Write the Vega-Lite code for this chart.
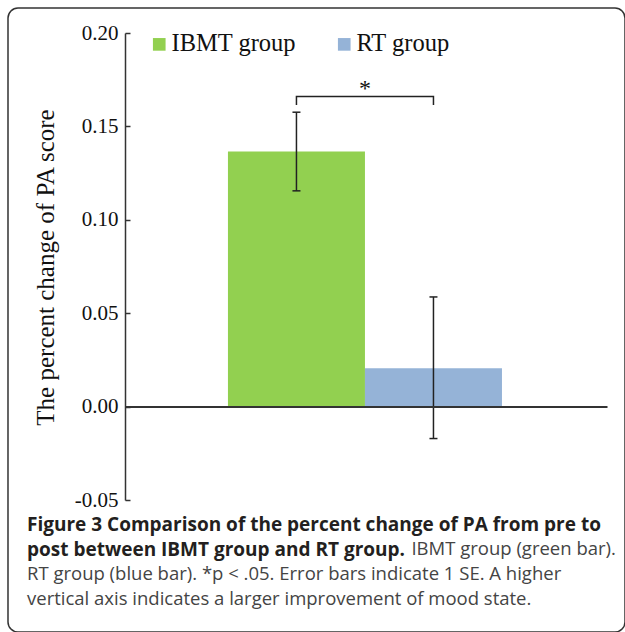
{
  "$schema": "https://vega.github.io/schema/vega-lite/v6.json",
  "width": 617,
  "height": 624,
  "autosize": {"type": "none"},
  "padding": {"left": 8, "top": 8, "right": 0, "bottom": 0},
  "background": "white",
  "title": {
    "text": ["Figure 3 Comparison of the percent change of PA from pre to", "post between IBMT group and RT group."],
    "subtitle": ["\u200b\u00a0\u00a0\u00a0\u00a0\u00a0\u00a0\u00a0\u00a0\u00a0\u00a0\u00a0\u00a0\u00a0\u00a0\u00a0\u00a0\u00a0\u00a0\u00a0\u00a0\u00a0\u00a0\u00a0\u00a0\u00a0\u00a0\u00a0\u00a0\u00a0\u00a0\u00a0\u00a0\u00a0\u00a0\u00a0\u00a0\u00a0\u00a0\u00a0\u00a0\u00a0\u00a0\u00a0\u00a0\u00a0\u00a0\u00a0\u00a0\u00a0\u00a0\u00a0\u00a0\u00a0\u00a0\u00a0\u00a0\u00a0\u00a0\u00a0\u00a0\u00a0\u00a0\u00a0\u00a0\u00a0\u00a0\u00a0\u00a0\u00a0\u00a0\u00a0\u00a0\u00a0\u00a0\u00a0\u00a0\u00a0\u00a0\u00a0\u00a0IBMT group (green bar).", "RT group (blue bar). *p < .05. Error bars indicate 1 SE. A higher", "vertical axis indicates a larger improvement of mood state."],
    "orient": "bottom",
    "anchor": "start",
    "frame": "group",
    "offset": -116,
    "dx": 19,
    "font": "Open Sans",
    "fontSize": 19,
    "fontWeight": "bold",
    "color": "#231f20",
    "lineHeight": 24.5,
    "subtitleFont": "Open Sans",
    "subtitleFontSize": 18.5,
    "subtitleFontWeight": "normal",
    "subtitleColor": "#444444",
    "subtitleLineHeight": 25,
    "subtitlePadding": -19.5
  },
  "datasets": {
    "bars": [
      {"group": "IBMT group", "mean": 0.1365, "lo": 0.1155, "hi": 0.1576},
      {"group": "RT group", "mean": 0.0205, "lo": -0.0171, "hi": 0.0587}
    ],
    "bracket": [
      {"group": "IBMT group", "y": 0.1615, "k": 1},
      {"group": "IBMT group", "y": 0.166, "k": 2},
      {"group": "RT group", "y": 0.166, "k": 3},
      {"group": "RT group", "y": 0.1615, "k": 4}
    ],
    "star": [
      {"group": "IBMT group", "y": 0.17, "label": "*"}
    ]
  },
  "layer": [
    {
      "data": {"name": "bars"},
      "mark": {"type": "bar", "strokeWidth": 0},
      "encoding": {
        "x": {
          "field": "group",
          "type": "nominal",
          "scale": {"domain": ["IBMT group", "RT group"], "range": [117, 599], "paddingInner": 0, "paddingOuter": 0.759, "align": 0.495},
          "axis": {"orient": "bottom", "offset": -225.4, "ticks": false, "labels": false, "title": null, "domainColor": "#333333", "domainWidth": 2, "zindex": 1}
        },
        "y": {
          "field": "mean",
          "type": "quantitative",
          "scale": {"domain": [-0.05, 0.2], "range": [492, 25], "nice": false, "zero": false},
          "axis": {
            "orient": "left",
            "offset": -117,
            "values": [-0.05, 0, 0.05, 0.1, 0.15, 0.2],
            "format": ".2f",
            "labelExpr": "replace(datum.label, '\u2212', '-')",
            "labelFont": "Liberation Serif",
            "labelFontSize": 21,
            "labelColor": "#111111",
            "labelPadding": 12,
            "tickSize": -5,
            "tickColor": "#333333",
            "tickWidth": 1.5,
            "domainColor": "#333333",
            "domainWidth": 1.5,
            "grid": false,
            "title": "The percent change of PA score",
            "titleFont": "Liberation Serif",
            "titleFontSize": 25,
            "titleFontWeight": "normal",
            "titleColor": "#111111",
            "titleAngle": -90,
            "titleBaseline": "middle",
            "titleAlign": "center",
            "titleX": -80,
            "titleY": 259
          }
        },
        "color": {
          "field": "group",
          "type": "nominal",
          "scale": {"domain": ["IBMT group", "RT group"], "range": ["#92D050", "#95B3D7"]},
          "legend": {
            "title": null,
            "orient": "none",
            "legendX": 139,
            "legendY": 24,
            "direction": "horizontal",
            "symbolType": "square",
            "symbolSize": 160,
            "symbolStrokeWidth": 0,
            "symbolOpacity": 1,
            "labelFont": "Liberation Serif",
            "labelFontSize": 24.5,
            "labelColor": "#111111",
            "labelOffset": 0,
            "labelLimit": 300,
            "columnPadding": 35,
            "padding": 0
          }
        }
      }
    },
    {
      "data": {"name": "bars"},
      "mark": {"type": "rule", "color": "#222222", "strokeWidth": 1.5},
      "encoding": {
        "x": {"field": "group", "type": "nominal"},
        "y": {"field": "lo", "type": "quantitative"},
        "y2": {"field": "hi"}
      }
    },
    {
      "data": {"name": "bars"},
      "mark": {"type": "tick", "orient": "horizontal", "size": 8, "thickness": 1.5, "color": "#222222", "opacity": 1},
      "encoding": {
        "x": {"field": "group", "type": "nominal"},
        "y": {"field": "lo", "type": "quantitative"}
      }
    },
    {
      "data": {"name": "bars"},
      "mark": {"type": "tick", "orient": "horizontal", "size": 8, "thickness": 1.5, "color": "#222222", "opacity": 1},
      "encoding": {
        "x": {"field": "group", "type": "nominal"},
        "y": {"field": "hi", "type": "quantitative"}
      }
    },
    {
      "data": {"name": "bracket"},
      "mark": {"type": "line", "color": "#222222", "strokeWidth": 1.5},
      "encoding": {
        "x": {"field": "group", "type": "nominal"},
        "y": {"field": "y", "type": "quantitative"},
        "order": {"field": "k", "type": "quantitative"}
      }
    },
    {
      "data": {"name": "star"},
      "mark": {"type": "text", "font": "Liberation Serif", "fontSize": 24, "color": "#111111", "baseline": "middle", "align": "center"},
      "encoding": {
        "x": {"field": "group", "type": "nominal", "bandPosition": 1},
        "y": {"field": "y", "type": "quantitative"},
        "text": {"field": "label"}
      }
    }
  ],
  "config": {
    "view": {"stroke": "#333333", "strokeWidth": 1.5, "cornerRadius": 10, "fill": "white"}
  }
}
